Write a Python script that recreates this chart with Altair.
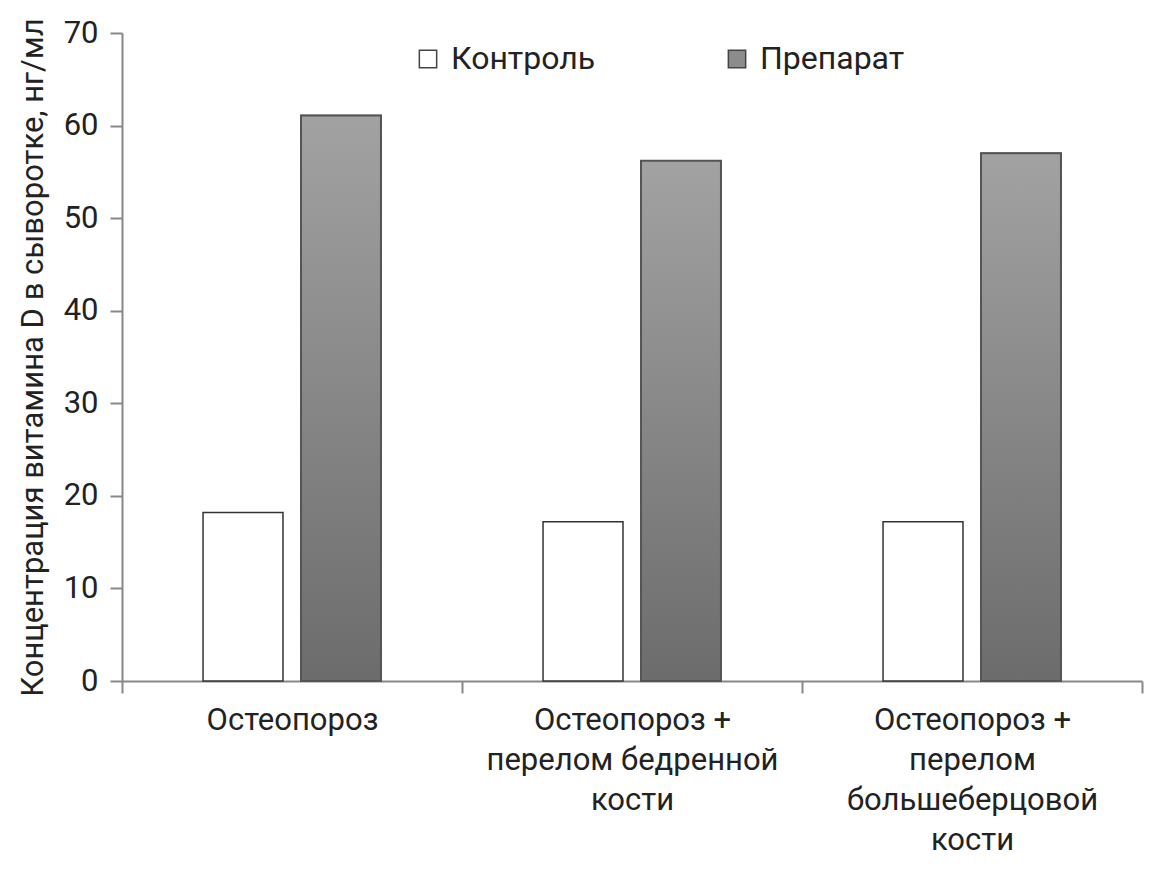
import altair as alt
import pandas as pd

categories = [
    "Остеопороз",
    "Остеопороз +\nперелом бедренной\nкости",
    "Остеопороз +\nперелом\nбольшеберцовой\nкости",
]
series = ["Контроль", "Препарат"]
control = [18.2, 17.2, 17.2]
drug = [61.1, 56.2, 57.0]
y_ticks = [0, 10, 20, 30, 40, 50, 60, 70]

rows = []
for c, a, b in zip(categories, control, drug):
    rows.append({"cat": c, "series": series[0], "value": a})
    rows.append({"cat": c, "series": series[1], "value": b})
df = pd.DataFrame(rows)

FONT = "Roboto"

x_enc = alt.X(
    "cat:N",
    sort=categories,
    scale=alt.Scale(paddingInner=0, paddingOuter=0),
    axis=alt.Axis(
        title=None,
        labelAngle=0,
        tickBand="extent",
        tickSize=12,
        labelPadding=12,
        labelLineHeight=40,
        labelLimit=0,
        labelFontSize=31,
        labelExpr="split(datum.label, '\\n')",
    ),
)
xo_enc = alt.XOffset(
    "series:N",
    sort=series,
    scale=alt.Scale(domain=series, paddingInner=0.184, paddingOuter=0.827),
)
y_enc = alt.Y(
    "value:Q",
    scale=alt.Scale(domain=[0, 70], nice=False),
    axis=alt.Axis(
        title="Концентрация витамина D в сыворотке, нг/мл",
        values=y_ticks,
        tickSize=12,
        labelPadding=12,
        titlePadding=14,
        grid=False,
    ),
)

base = alt.Chart(df).encode(x=x_enc, xOffset=xo_enc, y=y_enc)

bars = base.mark_bar(stroke="#333333", strokeWidth=1.5).encode(
    fill=alt.Fill(
        "series:N",
        sort=series,
        scale=alt.Scale(domain=series, range=["#ffffff", "#8c8c8c"]),
        legend=alt.Legend(
            title=None,
            orient="none",
            legendX=290,
            legendY=10,
            direction="horizontal",
            symbolType="square",
            symbolSize=300,
            symbolStrokeColor="#444444",
            symbolStrokeWidth=1.5,
            labelFontSize=32,
            labelFont=FONT,
            labelColor="#222222",
            labelOffset=7,
            columnPadding=125,
        ),
    )
)

grad = alt.Gradient(
    gradient="linear",
    stops=[
        alt.GradientStop(color="#a2a2a2", offset=0),
        alt.GradientStop(color="#6c6c6c", offset=1),
    ],
    x1=0, x2=0, y1=0, y2=1,
)

drug_bars = base.transform_filter(alt.datum.series == "Препарат").mark_bar(
    fill=grad, stroke="#555555", strokeWidth=2
)

chart = (
    alt.layer(bars, drug_bars)
    .properties(
        width=1020,
        height=648,
        autosize=alt.AutoSizeParams(type="none"),
        padding={"left": 114, "top": 25, "right": 4, "bottom": 182},
    )
    .configure_view(stroke=None)
    .configure_axis(
        domainColor="#888888",
        domainWidth=2,
        tickColor="#888888",
        tickWidth=2,
        labelFont=FONT,
        labelFontSize=31,
        labelColor="#222222",
        titleFont=FONT,
        titleFontSize=31,
        titleFontWeight="normal",
        titleColor="#222222",
    )
)

chart.save("out.html", embed_options={"renderer": "svg", "actions": False})
